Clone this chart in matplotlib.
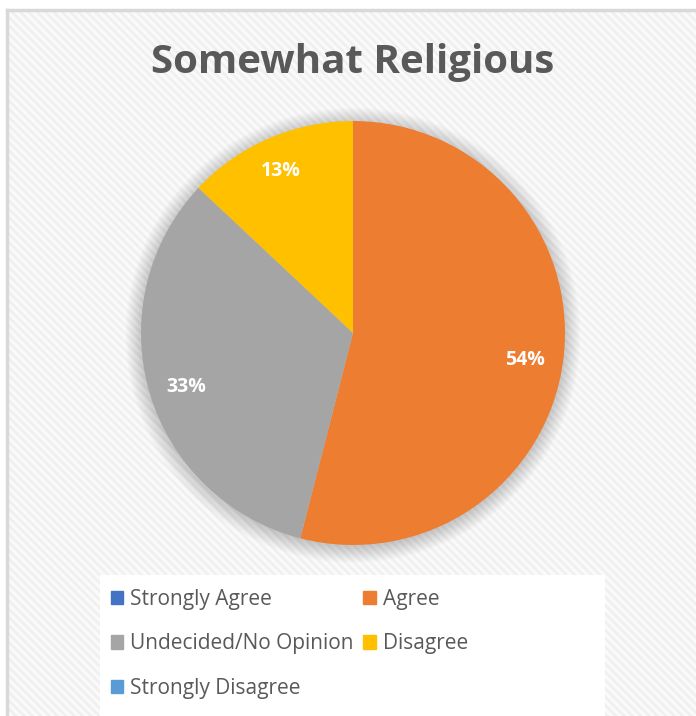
import matplotlib.pyplot as plt
from matplotlib.patches import Rectangle, Circle
import matplotlib as mpl
import numpy as np

# 데이터
title = 'Somewhat Religious'
labels = ['Strongly Agree', 'Agree', 'Undecided/No Opinion', 'Disagree', 'Strongly Disagree']
values = [0, 54, 33, 13, 0]
colors = ['#4472C4', '#ED7D31', '#A5A5A5', '#FFC000', '#5B9BD5']

plt.rcParams['font.family'] = ['Open Sans', 'DejaVu Sans']
mpl.rcParams['hatch.linewidth'] = 2.0

W, H = 696, 716
fig = plt.figure(figsize=(W / 100, H / 100), dpi=100)
fig.patch.set_facecolor('white')

# 배경 (빗금 + 테두리)
bg = Rectangle((7 / W, 0), 1, 1 - 10 / H, transform=fig.transFigure,
               facecolor='#FAFAFA', edgecolor='#F0F0F0', hatch='\\\\\\\\', lw=0, zorder=0)
fig.patches.append(bg)
fig.add_artist(plt.Line2D([7 / W, 7 / W], [0, 1 - 10 / H], color='#D9D9D9', lw=2.5, transform=fig.transFigure))
fig.add_artist(plt.Line2D([7 / W, 1], [1 - 10 / H, 1 - 10 / H], color='#D9D9D9', lw=2.5, transform=fig.transFigure))

# 범례 박스
fig.patches.append(Rectangle((100 / W, 0), 505 / W, 141 / H, transform=fig.transFigure,
                             facecolor='white', edgecolor='none', zorder=1))

fig.text(353 / W, 1 - 62 / H, title, ha='center', va='center', fontsize=29,
         fontweight='bold', color='#595959', zorder=3)

# 파이 (중심 353,333 / 반지름 212 px)
ax = fig.add_axes([(141 - 0.1 * 212) / W, 1 - (545 + 0.1 * 212) / H, 1.1 * 424 / W, 1.1 * 424 / H])
ax.set_zorder(2)
ax.patch.set_alpha(0)

# 그림자
for i in range(10):
    ax.add_patch(Circle((0.0, -0.01), 1.0 + 0.008 * i, color='#000000', alpha=0.02, lw=0, zorder=0))

wedges, _ = ax.pie(values, colors=colors, startangle=90, counterclock=False, radius=1,
                   wedgeprops=dict(linewidth=0))
for w in wedges:
    w.set_zorder(2)
ax.set_xlim(-1.1, 1.1)
ax.set_ylim(-1.1, 1.1)
ax.set_aspect('equal')
ax.axis('off')

total = sum(values)
ang = 90
for v in values:
    if v == 0:
        continue
    mid = ang - v / total * 360 / 2
    ang -= v / total * 360
    r = 0.82 if v > 20 else 0.86
    ax.text(r * np.cos(np.radians(mid)), r * np.sin(np.radians(mid)) - 0.025, f'{v}%',
            ha='center', va='center', color='white', fontsize=14, fontweight='bold', zorder=3)

# 범례 (행 순서로 채우기 위해 재정렬)
order = [0, 2, 4, 1, 3]
handles = [Rectangle((0, 0), 1, 1, color=colors[i]) for i in order]
leg = fig.legend(handles, [labels[i] for i in order], loc='upper left',
                 bbox_to_anchor=(94 / W, 1 - 572 / H),
                 ncol=2, frameon=False, fontsize=15, labelcolor='#595959',
                 handlelength=0.6, handleheight=0.6, handletextpad=0.35,
                 columnspacing=0.45, labelspacing=1.14, borderpad=0.3)
leg.set_zorder(3)

fig.savefig('out.png', dpi=100)
